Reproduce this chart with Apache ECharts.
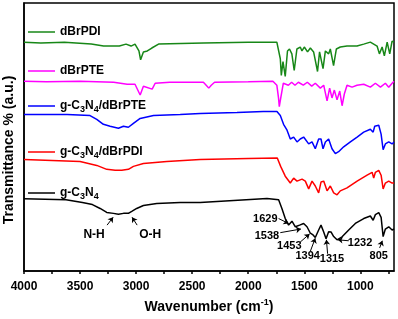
<!DOCTYPE html>
<html>
<head>
<meta charset="utf-8">
<script src="https://cdn.jsdelivr.net/npm/echarts@6/dist/echarts.min.js"></script>
<style>
  html, body { margin: 0; padding: 0; background: #fff; }
  #main { width: 398px; height: 319px; }
</style>
</head>
<body>
<div id="main"></div>
<script>
// [wavenumber, transmittance (offset, a.u.)]
var dBrPDI = [[4000,234],[3850,233],[3640,234],[3400,232],[3290,230],[3150,230],[3090,232],[3045,230],[3010,232],[2975,225],[2960,216],[2935,224],[2900,225],[2860,228],[2800,232],[2400,233],[2000,234],[1745,234],[1732,232],[1714,217],[1705,200],[1690,214],[1670,199],[1650,225],[1632,227],[1611,222],[1590,205],[1566,227],[1536,229],[1521,225],[1500,229],[1471,224],[1446,228],[1417,224],[1382,204],[1364,224],[1333,207],[1312,225],[1283,222],[1268,227],[1239,210],[1214,227],[1179,229],[1119,230],[1030,230],[970,232],[911,234],[851,230],[830,222],[806,229],[786,220],[761,234],[738,222],[717,235],[700,234]];
var dBrPTE = [[4000,194],[3800,193.5],[3500,194],[3200,193],[3080,191],[3010,191],[2964,180],[2935,189],[2857,186],[2830,192],[2700,193],[2400,193],[2375,190],[2352,187],[2330,190],[2300,193],[2000,193.5],[1780,194],[1745,190],[1730,177],[1723,168],[1710,177],[1687,192],[1642,190],[1613,193],[1583,190],[1553,193],[1509,190],[1473,193],[1434,189],[1402,192],[1357,187],[1327,190],[1297,174],[1274,187],[1253,177],[1232,185],[1208,175],[1184,184],[1163,169],[1143,181],[1119,190],[1074,188],[1030,190],[970,191],[911,188],[866,192],[821,188],[777,192],[747,188],[717,192],[700,194]];
var cnPTE = [[4000,160],[3616,160],[3411,159],[3351,155],[3292,150],[3232,148],[3158,146],[3113,148],[3069,147],[3024,151],[2964,156],[2845,159],[2607,160],[2429,161],[2100,162],[1866,163],[1744,163],[1714,159],[1685,150],[1654,144],[1625,135],[1595,137],[1565,132],[1536,135],[1506,137],[1461,130],[1431,132],[1402,125],[1372,135],[1351,135],[1333,125],[1312,132],[1283,135],[1253,125],[1223,120],[1194,122],[1149,127],[1089,132],[1029,137],[970,142],[911,145],[886,142],[872,148],[836,149],[815,140],[797,124],[777,130],[747,132],[717,130],[700,132]];
var cnPDI = [[4000,114],[3500,112],[3351,108],[3262,104],[3187,103],[3128,103],[3069,104],[3024,107],[2935,110],[2726,112],[2429,114],[2000,115],[1741,115.5],[1711,107],[1670,97],[1625,90],[1595,95],[1565,92],[1520,94],[1491,92],[1461,84],[1431,92],[1402,87],[1372,80],[1351,91],[1327,92],[1297,82],[1268,87],[1238,80],[1208,78],[1179,82],[1119,85],[1029,92],[940,98],[895,101],[881,95],[866,101],[836,103],[815,98],[797,84],[777,90],[747,92],[717,90],[700,90]];
var cn = [[4000,74],[3625,73],[3479,70],[3390,68],[3321,64],[3262,60],[3202,59],[3158,58],[3113,59],[3069,59],[3039,61],[2995,64],[2935,67],[2816,69],[2607,70],[2429,70],[2018,73],[1833,74.3],[1729,73],[1699,63.7],[1670,53.7],[1640,47],[1610,51],[1580,45.3],[1542,47],[1506,48.7],[1476,45.3],[1446,38.7],[1422,37],[1402,34.3],[1372,42],[1351,47],[1327,40],[1306,33],[1283,40.3],[1262,40],[1238,35.3],[1208,32],[1163,35],[1104,42],[1045,48.7],[970,53.7],[911,56.3],[886,52],[866,57.7],[836,59.7],[815,55],[797,35.3],[777,43],[747,45.3],[717,42],[700,43]];

var seriesNames = ['dBrPDI', 'dBrPTE', 'g-C3N4/dBrPTE', 'g-C3N4/dBrPDI', 'g-C3N4'];
var seriesColors = ['#178717', '#ff00ff', '#0000ff', '#ff0000', '#000000'];
var seriesData = [dBrPDI, dBrPTE, cnPTE, cnPDI, cn];
var legendTops = [26, 65, 100, 146, 187];

var tickValues = [750,1000,1250,1500,1750,2000,2250,2500,2750,3000,3250,3500,3750,4000];
var labelValues = [1000,1500,2000,2500,3000,3500,4000];

// peak labels: [text, wavenumber, value]
var peakLabels = [['1629',1848,53],['1538',1833,36],['1453',1634,25.7],['1394',1470,15.7],['1315',1253,12.3],['1232',1003,29],['805',836,15]];
var bandLabels = [['N-H',3375,37.7],['O-H',2875,37.7]];
// arrows: [fromWn, fromV, toWn, toV]
var arrows = [[1729,53.7,1640,48.7],[1714,39.3,1530,43],[1536,29.7,1453,38],[1446,20.3,1402,33.7],[1292,17.7,1303,32],[1104,31,1202,32],[828,23.7,804,31],[3259,47,3205,55],[2991,47,3036,55]];

var font = '"Liberation Sans", Arial, sans-serif';

// "g-C3N4/dBrPTE" -> rich text with subscripts
function richName(name) {
  var parts = name.split(/(C3N4)/);
  return parts.map(function (p) {
    if (p === 'C3N4') return '{n|C}{s|3}{n|N}{s|4}';
    return p ? '{n|' + p + '}' : '';
  }).join('');
}

var myChart = echarts.init(document.getElementById('main'));

var legends = seriesNames.map(function (name, i) {
  return {
    data: [name],
    left: 28,
    top: legendTops[i],
    padding: 0,
    icon: 'rect',
    itemWidth: 27,
    itemHeight: 1.5,
    selectedMode: false,
    formatter: function (n) { return richName(n); },
    textStyle: {
      fontFamily: font,
      rich: {
        n: { fontSize: 12, fontWeight: 'bold', color: '#000', fontFamily: font, lineHeight: 16 },
        s: { fontSize: 9, fontWeight: 'bold', color: '#000', fontFamily: font, lineHeight: 8, verticalAlign: 'bottom' }
      }
    }
  };
});

var series = seriesNames.map(function (name, i) {
  var s = {
    name: name,
    type: 'line',
    data: seriesData[i],
    symbol: 'none',
    lineStyle: { width: 1.5, color: seriesColors[i] },
    itemStyle: { color: seriesColors[i] }
  };
  if (i === 4) {
    s.markLine = {
      silent: true,
      symbol: ['none', 'arrow'],
      symbolSize: 5,
      label: { show: false },
      lineStyle: { color: '#000', width: 1, type: 'solid' },
      data: arrows.map(function (a) {
        return [{ coord: [a[0], a[1]] }, { coord: [a[2], a[3]] }];
      })
    };
    s.markPoint = {
      silent: true,
      symbol: 'rect',
      symbolSize: 1,
      itemStyle: { color: 'rgba(0,0,0,0)' },
      label: { show: true, position: 'inside', formatter: '{b}', color: '#000', fontWeight: 'bold', fontFamily: font },
      data: peakLabels.map(function (p) {
        return { name: p[0], coord: [p[1], p[2]], label: { fontSize: 11 } };
      }).concat(bandLabels.map(function (p) {
        return { name: p[0], coord: [p[1], p[2]], label: { fontSize: 12 } };
      }))
    };
  }
  return s;
});

var option = {
  animation: false,
  legend: legends,
  grid: {
    left: 24, right: 4, top: 3, bottom: 42,
    show: true, borderColor: '#000', borderWidth: 1.5
  },
  xAxis: {
    type: 'value',
    inverse: true,
    min: 700,
    max: 4000,
    name: '{n|Wavenumber (cm}{u|-1}{n|)}',
    nameLocation: 'middle',
    nameGap: 17,
    nameTextStyle: {
      rich: {
        n: { fontSize: 14, fontWeight: 'bold', color: '#000', fontFamily: font, lineHeight: 18 },
        u: { fontSize: 9, fontWeight: 'bold', color: '#000', fontFamily: font, lineHeight: 10, verticalAlign: 'top' }
      }
    },
    axisLine: { show: true, lineStyle: { color: '#000', width: 1.5 } },
    axisTick: { show: true, length: 3, lineStyle: { color: '#000', width: 1.5 }, customValues: tickValues },
    axisLabel: {
      customValues: labelValues,
      formatter: function (v) { return String(v); },
      color: '#000', fontSize: 12, fontWeight: 'bold', fontFamily: font, margin: 10
    },
    splitLine: { show: false }
  },
  yAxis: {
    type: 'value',
    min: 0,
    max: 274,
    axisLine: { show: true, lineStyle: { color: '#000', width: 1.5 } },
    axisTick: { show: false },
    axisLabel: { show: false },
    splitLine: { show: false }
  },
  graphic: [{
    type: 'text',
    x: 9,
    y: 150,
    rotation: Math.PI / 2,
    style: {
      text: 'Transmittance % (a.u.)',
      fontSize: 14,
      fontWeight: 'bold',
      fontFamily: font,
      fill: '#000',
      align: 'center',
      verticalAlign: 'middle'
    }
  }],
  series: series
};

myChart.setOption(option);
window.onresize = function () {
  myChart.resize();
};
</script>
</body>
</html>
